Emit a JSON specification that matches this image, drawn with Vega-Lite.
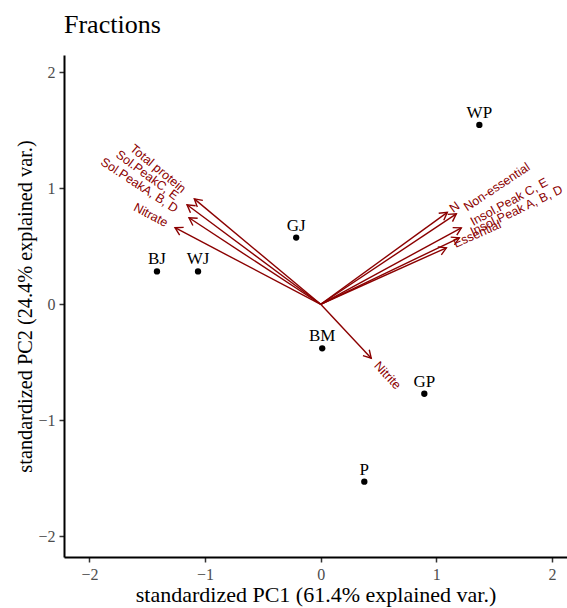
{
  "$schema": "https://vega.github.io/schema/vega-lite/v6.json",
  "width": 503,
  "height": 502,
  "autosize": {"type": "none"},
  "padding": {"left": 64, "top": 55, "right": 0, "bottom": 51},
  "title": {
    "text": "Fractions",
    "anchor": "start",
    "frame": "group",
    "font": "Liberation Serif",
    "fontSize": 26,
    "fontWeight": "normal",
    "color": "black",
    "baseline": "alphabetic",
    "offset": -4
  },
  "datasets": {
    "scores": [
      {"name": "WP", "PC1": 1.372, "PC2": 1.547},
      {"name": "GJ", "PC1": -0.212, "PC2": 0.575},
      {"name": "BJ", "PC1": -1.416, "PC2": 0.283},
      {"name": "WJ", "PC1": -1.061, "PC2": 0.283},
      {"name": "BM", "PC1": 0.013, "PC2": -0.38},
      {"name": "GP", "PC1": 0.896, "PC2": -0.772},
      {"name": "P", "PC1": 0.377, "PC2": -1.53}
    ],
    "loadings": [
      {"name": "Total protein", "PC1": -1.093, "PC2": 0.909},
      {"name": "Sol.PeakC, E", "PC1": -1.156, "PC2": 0.858},
      {"name": "Sol.PeakA, B, D", "PC1": -1.139, "PC2": 0.746},
      {"name": "Nitrate", "PC1": -1.26, "PC2": 0.66},
      {"name": "N", "PC1": 1.095, "PC2": 0.793},
      {"name": "Non-essential", "PC1": 1.173, "PC2": 0.78},
      {"name": "Insol.Peak C, E", "PC1": 1.216, "PC2": 0.659},
      {"name": "Insol.Peak A, B, D", "PC1": 1.199, "PC2": 0.573},
      {"name": "Essential", "PC1": 1.087, "PC2": 0.487},
      {"name": "Nitrite", "PC1": 0.437, "PC2": -0.465}
    ]
  },
  "encoding": {
    "x": {
      "field": "PC1",
      "type": "quantitative",
      "scale": {"domain": [-2.22, 2.13], "nice": false, "zero": false},
      "axis": {"values": [-2, -1, 0, 1, 2], "title": "standardized PC1 (61.4% explained var.)", "titleFontSize": 22}
    },
    "y": {
      "field": "PC2",
      "type": "quantitative",
      "scale": {"domain": [-2.18, 2.15], "nice": false, "zero": false},
      "axis": {"values": [-2, -1, 0, 1, 2], "title": "standardized PC2 (24.4% explained var.)", "titleFontSize": 20.3}
    }
  },
  "layer": [
    {
      "data": {"name": "loadings"},
      "mark": {"type": "rule", "color": "#8B0000", "strokeWidth": 1.4},
      "encoding": {
        "x2": {"datum": 0},
        "y2": {"datum": 0}
      }
    },
    {
      "data": {"name": "loadings"},
      "transform": [
        {"calculate": "atan2(datum.PC1, datum.PC2) * 180 / PI", "as": "ah"}
      ],
      "mark": {
        "type": "point",
        "shape": "M-0.5,0.866L0,0L0.5,0.866",
        "filled": false,
        "color": "#8B0000",
        "strokeWidth": 1.4,
        "opacity": 1,
        "size": 300
      },
      "encoding": {
        "angle": {"field": "ah", "type": "quantitative", "scale": null}
      }
    },
    {
      "data": {"name": "loadings"},
      "transform": [
        {"filter": "datum.PC1 > 0"},
        {"calculate": "sqrt(datum.PC1*datum.PC1 + datum.PC2*datum.PC2)", "as": "norm"},
        {"calculate": "(4 + 0.07 * length(datum.name) * 7) / 115.5", "as": "gap"},
        {"calculate": "datum.PC1 + datum.PC1 / datum.norm * datum.gap", "as": "lx"},
        {"calculate": "datum.PC2 + datum.PC2 / datum.norm * datum.gap", "as": "ly"},
        {"calculate": "-atan(datum.PC2 / datum.PC1) * 180 / PI", "as": "ang"}
      ],
      "mark": {"type": "text", "align": "left", "baseline": "middle", "font": "Liberation Sans", "fontSize": 12.5, "color": "#8B0000"},
      "encoding": {
        "x": {"field": "lx", "type": "quantitative"},
        "y": {"field": "ly", "type": "quantitative"},
        "text": {"field": "name"},
        "angle": {"field": "ang", "type": "quantitative", "scale": null}
      }
    },
    {
      "data": {"name": "loadings"},
      "transform": [
        {"filter": "datum.PC1 < 0"},
        {"calculate": "sqrt(datum.PC1*datum.PC1 + datum.PC2*datum.PC2)", "as": "norm"},
        {"calculate": "(0.1 * length(datum.name) * 7 + 4) / 115.5", "as": "gap"},
        {"calculate": "datum.PC1 + datum.PC1 / datum.norm * datum.gap", "as": "lx"},
        {"calculate": "datum.PC2 + datum.PC2 / datum.norm * datum.gap", "as": "ly"},
        {"calculate": "-atan(datum.PC2 / datum.PC1) * 180 / PI", "as": "ang"}
      ],
      "mark": {"type": "text", "align": "right", "baseline": "middle", "font": "Liberation Sans", "fontSize": 12.5, "color": "#8B0000"},
      "encoding": {
        "x": {"field": "lx", "type": "quantitative"},
        "y": {"field": "ly", "type": "quantitative"},
        "text": {"field": "name"},
        "angle": {"field": "ang", "type": "quantitative", "scale": null}
      }
    },
    {
      "data": {"name": "scores"},
      "mark": {"type": "point", "filled": true, "color": "black", "size": 40, "opacity": 1}
    },
    {
      "data": {"name": "scores"},
      "mark": {"type": "text", "font": "Liberation Serif", "fontSize": 17, "color": "black", "baseline": "alphabetic", "dy": -7},
      "encoding": {"text": {"field": "name"}}
    }
  ],
  "config": {
    "view": {"stroke": null},
    "axis": {
      "grid": false,
      "domainColor": "black",
      "domainWidth": 2,
      "tickColor": "#333333",
      "tickWidth": 1.5,
      "tickSize": 5,
      "labelFont": "Liberation Serif",
      "labelFontSize": 16,
      "labelColor": "#4D4D4D",
      "labelPadding": 4,
      "titleFont": "Liberation Serif",
      "titleFontWeight": "normal",
      "titleColor": "black",
      "titlePadding": 2
    }
  }
}
